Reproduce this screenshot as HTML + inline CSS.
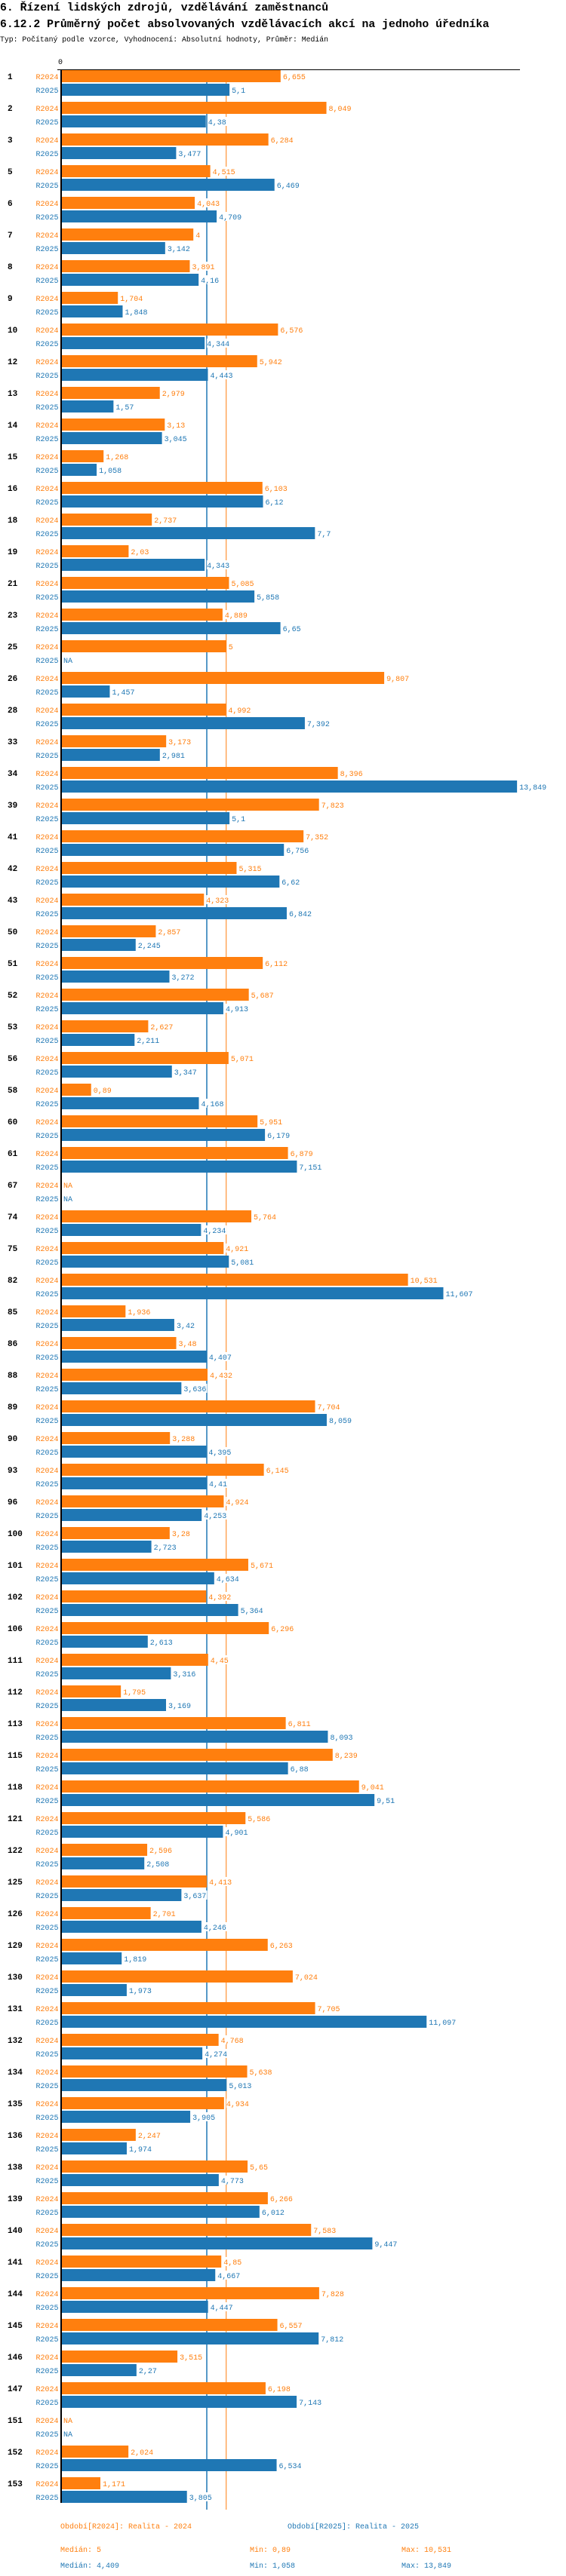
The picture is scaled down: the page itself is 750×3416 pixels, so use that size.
<!DOCTYPE html>
<html><head><meta charset="utf-8">
<style>
body{margin:0;background:#fff;width:750px;height:3416px;overflow:hidden}
svg{display:block}
text{font-family:"Liberation Mono","DejaVu Sans Mono",monospace}
</style></head>
<body>
<svg id="chart" width="750" height="3416" xmlns="http://www.w3.org/2000/svg">
<text x="0" y="14" font-size="14.8" font-weight="bold" fill="#000">6. Řízení lidských zdrojů, vzdělávání zaměstnanců</text>
<text x="0" y="36" font-size="14.8" font-weight="bold" fill="#000">6.12.2 Průměrný počet absolvovaných vzdělávacích akcí na jednoho úředníka</text>
<text x="0" y="55" font-size="9.8" fill="#000">Typ: Počítaný podle vzorce, Vyhodnocení: Absolutní hodnoty, Průměr: Medián</text>
<text x="77" y="85" font-size="10" fill="#000">0</text>
<g id="marks"></g>
<g id="overlay"></g>
<text x="80" y="3353" font-size="10" fill="#ff7f0e">Období[R2024]: Realita - 2024</text>
<text x="381" y="3353" font-size="10" fill="#1f77b4">Období[R2025]: Realita - 2025</text>
<text x="80" y="3384" font-size="10" fill="#ff7f0e">Medián: 5</text>
<text x="331" y="3384" font-size="10" fill="#ff7f0e">Min: 0,89</text>
<text x="532" y="3384" font-size="10" fill="#ff7f0e">Max: 10,531</text>
<text x="80" y="3405" font-size="10" fill="#1f77b4">Medián: 4,409</text>
<text x="331" y="3405" font-size="10" fill="#1f77b4">Min: 1,058</text>
<text x="532" y="3405" font-size="10" fill="#1f77b4">Max: 13,849</text>
</svg>
<script>
const categories=["1","2","3","5","6","7","8","9","10","12","13","14","15","16","18","19","21","23","25","26","28","33","34","39","41","42","43","50","51","52","53","56","58","60","61","67","74","75","82","85","86","88","89","90","93","96","100","101","102","106","111","112","113","115","118","121","122","125","126","129","130","131","132","134","135","136","138","139","140","141","144","145","146","147","151","152","153"];
const values2024=[6.655,8.049,6.284,4.515,4.043,4,3.891,1.704,6.576,5.942,2.979,3.13,1.268,6.103,2.737,2.03,5.085,4.889,5,9.807,4.992,3.173,8.396,7.823,7.352,5.315,4.323,2.857,6.112,5.687,2.627,5.071,0.89,5.951,6.879,null,5.764,4.921,10.531,1.936,3.48,4.432,7.704,3.288,6.145,4.924,3.28,5.671,4.392,6.296,4.45,1.795,6.811,8.239,9.041,5.586,2.596,4.413,2.701,6.263,7.024,7.705,4.768,5.638,4.934,2.247,5.65,6.266,7.583,4.85,7.828,6.557,3.515,6.198,null,2.024,1.171];
const values2025=[5.1,4.38,3.477,6.469,4.709,3.142,4.16,1.848,4.344,4.443,1.57,3.045,1.058,6.12,7.7,4.343,5.858,6.65,null,1.457,7.392,2.981,13.849,5.1,6.756,6.62,6.842,2.245,3.272,4.913,2.211,3.347,4.168,6.179,7.151,null,4.234,5.081,11.607,3.42,4.407,3.636,8.059,4.395,4.41,4.253,2.723,4.634,5.364,2.613,3.316,3.169,8.093,6.88,9.51,4.901,2.508,3.637,4.246,1.819,1.973,11.097,4.274,5.013,3.905,1.974,4.773,6.012,9.447,4.667,4.447,7.812,2.27,7.143,null,6.534,3.805];
const medians=[5,4.409];
const seriesNames=["R2024","R2025"];

const NS="http://www.w3.org/2000/svg";
const X0=82, K=43.55, TOP=93, PITCH=42, BAR=16;
const colors=["#ff7f0e","#1f77b4"];
const x=v=>X0+v*K;
const y=(i,s)=>TOP+i*PITCH+s*18;
const fmt=v=>String(v).replace('.',',');
const marks=document.getElementById('marks');
const overlay=document.getElementById('overlay');
function mk(tag,attrs,parent){const e=document.createElementNS(NS,tag);for(const k in attrs)e.setAttribute(k,attrs[k]);parent.appendChild(e);return e;}

categories.forEach((c,i)=>{
  const t=mk('text',{x:10,y:y(i,0)+12,'font-size':11,'font-weight':'bold',fill:'#000'},marks);
  t.textContent=c;
  
  
  [values2024,values2025].forEach((arr,s)=>{
    const v=arr[i];
    const lab=mk('text',{x:77.5,y:y(i,s)+12,'font-size':10,fill:colors[s],'text-anchor':'end'},marks);
    lab.textContent=seriesNames[s];
    
    
    if(v!==null){
      const r=mk('rect',{x:X0,y:y(i,s),width:v*K,height:BAR,fill:colors[s]},marks);
      
      
    }
    const txt=v===null?'NA':fmt(v);
    const tx=v===null?X0+2:x(v)+3;
    const bg=mk('rect',{x:tx,y:y(i,s)+2,width:txt.length*6+1,height:12,fill:'#fff'},overlay);
    
    
    const vt=mk('text',{x:tx,y:y(i,s)+12,'font-size':10,fill:colors[s]},overlay);
    vt.textContent=txt;
    
    
  });
});
const bottom=TOP+categories.length*PITCH-8;
const m1=mk('line',{x1:x(medians[1]),x2:x(medians[1]),y1:92,y2:bottom+9,stroke:'#1f77b4','stroke-width':1.5},marks);


const m0=mk('line',{x1:x(medians[0]),x2:x(medians[0]),y1:92,y2:bottom+9,stroke:'#ff7f0e','stroke-width':1},marks);


marks.insertBefore(m1,marks.firstChild);
marks.insertBefore(m0,marks.firstChild);
const ax=mk('line',{x1:81,x2:81,y1:92,y2:bottom,stroke:'#000','stroke-width':2},overlay);


const tl=mk('line',{x1:76,x2:689,y1:92.5,y2:92.5,stroke:'#000','stroke-width':1},overlay);


</script>
</body></html>
